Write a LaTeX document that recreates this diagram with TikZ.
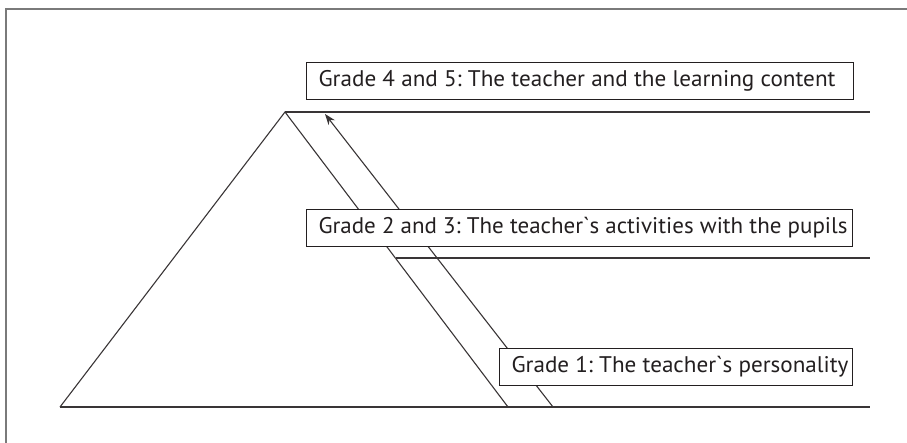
\documentclass[tikz,border=0pt]{standalone}
\usepackage{graphicx}
\usepackage{fontspec}
\newfontfamily\labelfont{PT Sans}
\usetikzlibrary{arrows.meta}
\definecolor{ink}{HTML}{231F20}
\definecolor{framegray}{HTML}{7A7A7A}
\newcommand{\fitlabel}[3]{\makebox[#1][l]{\resizebox{#2}{\height}{#3}}}
\tikzset{
  ln/.style={draw=ink!90, line width=1.1pt},
  frameline/.style={draw=framegray, line width=1.6pt},
  gradebox/.style={draw=ink, line width=1pt, fill=white, anchor=north west,
    inner xsep=12pt, inner ysep=0pt, minimum height=37pt,
    font=\labelfont\frenchspacing\fontsize{22.6}{25}\selectfont, text=ink},
}
\begin{document}
\begin{tikzpicture}[x=1pt,y=-1pt]
\useasboundingbox (0,0) rectangle (907,443);
% outer frame (top and left edges)
\draw[frameline] (6,443) -- (6,9) -- (907,9);
% coordinates
\coordinate (apex) at (285,112);
\coordinate (bl) at (60,407);
\coordinate (br) at (508,407);
\coordinate (topend) at (870,112);
\coordinate (midstart) at (396,258);
\coordinate (midend) at (870,258);
\coordinate (botend) at (870,407);
\coordinate (arrowfoot) at (553,407);
\coordinate (arrowtip) at (325,114);
% triangle and levels
\draw[ln] (bl) -- (apex) -- (br);
\draw[ln] (apex) -- (topend);
\draw[ln] (midstart) -- (midend);
\draw[ln] (bl) -- (botend);
\draw[ln, -{Stealth[length=11pt,width=8pt]}] (arrowfoot) -- (arrowtip);
% boxes
\node[gradebox] (g45) at (306,62) {\fitlabel{523pt}{517pt}{Grade 4 and 5: The teacher and the learning content}};
\node[gradebox] (g23) at (306,209) {\fitlabel{522pt}{529pt}{Grade 2 and 3: The teacher`s activities with the pupils}};
\node[gradebox] (g1) at (499,348) {\fitlabel{329pt}{337pt}{Grade 1: The teacher`s personality}};
\end{tikzpicture}
\end{document}
